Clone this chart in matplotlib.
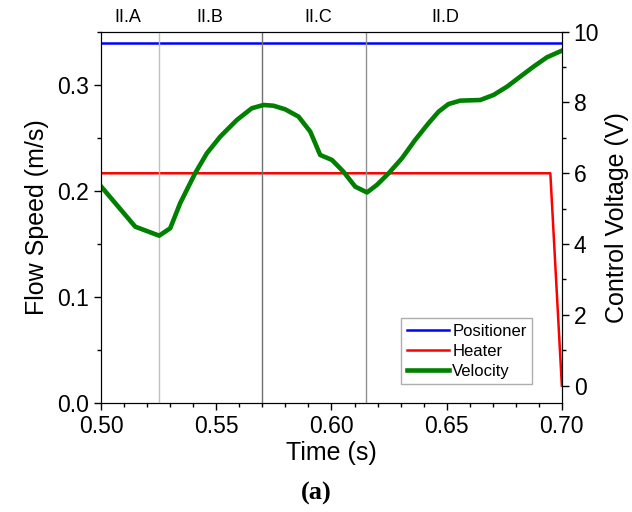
import matplotlib
matplotlib.use("Agg")
import matplotlib.pyplot as plt
from matplotlib.ticker import MultipleLocator
import matplotlib.transforms as mtransforms

plt.rcParams['font.family'] = ['Liberation Sans', 'DejaVu Sans']

# velocity trace (left axis, m/s)
vel_t = [0.5003, 0.5148, 0.5252, 0.530, 0.5343, 0.5408, 0.5459, 0.5517, 0.5589, 0.5654,
         0.5705, 0.5748, 0.5799, 0.5857, 0.5908, 0.5951, 0.6002, 0.6052, 0.6103, 0.6154,
         0.6197, 0.6248, 0.6306, 0.6363, 0.6421, 0.6465, 0.6508, 0.6559, 0.6646, 0.6703,
         0.6762, 0.6819, 0.6877, 0.6935, 0.700]
vel_v = [0.2037, 0.1665, 0.158, 0.165, 0.1886, 0.2169, 0.2358, 0.2515, 0.2672, 0.2783,
         0.2814, 0.2807, 0.2773, 0.2704, 0.2562, 0.2342, 0.2295, 0.2184, 0.2043, 0.1988,
         0.2059, 0.2169, 0.2311, 0.2483, 0.2641, 0.2751, 0.2823, 0.2855, 0.2861, 0.2908,
         0.2987, 0.3081, 0.3176, 0.3264, 0.3327]

# control voltages (right axis, V)
pos_t = [0.50, 0.70]
pos_v = [9.69, 9.69]
heat_t = [0.50, 0.695, 0.70]
heat_v = [6.0, 6.0, 0.0]

# phase boundaries and labels
bounds = [0.525, 0.570, 0.615]
bound_colors = ['#c0c0c0', '#707070', '#909090']
phase_x = [0.5114, 0.5472, 0.5942, 0.6495]
phase_lbl = ['II.A', 'II.B', 'II.C', 'II.D']

fig = plt.figure(figsize=(6.32, 5.12), dpi=100)
ax = fig.add_axes([0.160, 0.2129, 0.729, 0.7252])
ax2 = ax.twinx()

for b, c in zip(bounds, bound_colors):
    ax.axvline(b, color=c, lw=1.0, zorder=1)

l1, = ax2.plot(pos_t, pos_v, color='#0000ff', lw=1.8, label='Positioner')
l2, = ax2.plot(heat_t, heat_v, color='#ff0000', lw=1.8, label='Heater')
l3, = ax.plot(vel_t, vel_v, color='#008000', lw=3.3, label='Velocity')

# velocity drawn over the voltage lines
ax.set_zorder(ax2.get_zorder() + 1)
ax.patch.set_visible(False)

ax.set_xlim(0.50, 0.70)
ax.set_ylim(0.0, 0.3506)
ax2.set_ylim(-0.49, 10.0)

ax.xaxis.set_major_locator(MultipleLocator(0.05))
ax.xaxis.set_minor_locator(MultipleLocator(0.01))
ax.yaxis.set_major_locator(MultipleLocator(0.1))
ax.yaxis.set_minor_locator(MultipleLocator(0.05))
ax2.yaxis.set_major_locator(MultipleLocator(2))
ax2.yaxis.set_minor_locator(MultipleLocator(1))
ax.xaxis.set_major_formatter(plt.FormatStrFormatter('%.2f'))
ax.yaxis.set_major_formatter(plt.FormatStrFormatter('%.1f'))

for a in (ax, ax2):
    a.tick_params(which='major', direction='out', length=5, width=1, labelsize=16.5)
    a.tick_params(which='minor', direction='out', length=3, width=1)
ax.tick_params(top=False, which='both')

ax.set_xlabel('Time (s)', fontsize=18, labelpad=2)
ax.set_ylabel('Flow Speed (m/s)', fontsize=18, labelpad=6)
ax2.set_ylabel('Control Voltage (V)', fontsize=18, labelpad=4)

trans = mtransforms.blended_transform_factory(ax.transData, ax.transAxes)
for xp, lb in zip(phase_x, phase_lbl):
    ax.text(xp, 1.037, lb, transform=trans, ha='center', va='center', fontsize=13)

leg = ax.legend(handles=[l1, l2, l3], loc='lower right', bbox_to_anchor=(0.936, 0.05),
                fontsize=12, frameon=True, fancybox=False, edgecolor='#999999',
                handlelength=2.5, handletextpad=0.2, labelspacing=0.3,
                borderpad=0.35, borderaxespad=0)
leg.get_frame().set_linewidth(1.0)

fig.text(0.5, 0.037, '(a)', ha='center', va='center', fontsize=19, fontweight='bold',
         family=['Liberation Serif', 'DejaVu Serif'])

fig.savefig('out.png', dpi=100)
